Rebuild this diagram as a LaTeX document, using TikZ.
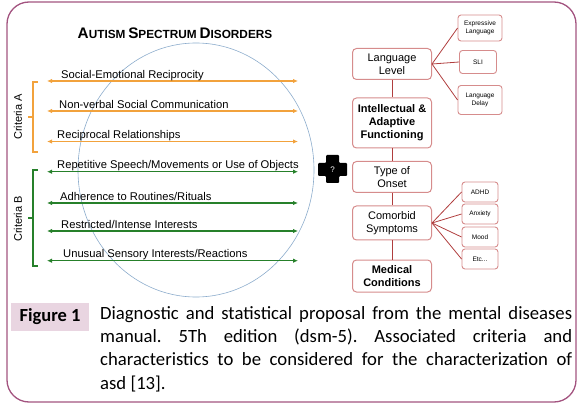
\documentclass[tikz,border=0pt]{standalone}
\usepackage{fontspec}
\setmainfont{Liberation Sans}
\newfontfamily\capfont{Carlito}
\usetikzlibrary{arrows.meta}
\definecolor{framec}{RGB}{163,84,128}
\definecolor{crita}{RGB}{242,162,60}
\definecolor{critb}{RGB}{38,128,42}
\definecolor{circc}{RGB}{140,172,204}
\definecolor{boxc}{RGB}{214,140,140}
\definecolor{linkc}{RGB}{176,62,62}
\definecolor{figc}{RGB}{233,213,225}
\newcommand{\fakesc}[2]{{\fontsize{15.3}{17}\selectfont #1}{\fontsize{11.8}{14}\selectfont #2}}
\hyphenpenalty=10000
\frenchspacing

\begin{document}
\begin{tikzpicture}[x=1pt,y=-1pt,
  bigbox/.style={draw=boxc,line width=1pt,rounded corners=4pt,fill=white,minimum width=79pt,align=center,inner sep=1pt,font=\fontsize{11}{13}\selectfont},
  smallbox/.style={draw=boxc,line width=0.9pt,rounded corners=3pt,fill=white,align=center,inner sep=1pt,font=\fontsize{6.5}{8}\selectfont},
  link/.style={linkc,line width=0.8pt},
  twoway/.style={line width=1.2pt,{Latex[length=5pt,width=4.5pt]}-{Latex[length=5pt,width=4.5pt]}},
  lbl/.style={anchor=base west,inner sep=0pt,font=\fontsize{11.2}{13}\selectfont}]
\useasboundingbox (0,0) rectangle (581,414);
\draw[framec,line width=1.3pt,rounded corners=22pt] (7,2) rectangle (576,402);

% left part: the two criteria
\node[font=\bfseries] (title) at (175,33) {\fakesc{A}{UTISM} \fakesc{S}{PECTRUM} \fakesc{D}{ISORDERS}};
\draw[circc,line width=0.6pt] (196,170) ellipse [x radius=118,y radius=127];

\coordinate (a1-l) at (47,81);    \coordinate (a1-r) at (298,81);
\coordinate (a2-l) at (47,111);   \coordinate (a2-r) at (298,111);
\coordinate (a3-l) at (47,141.5); \coordinate (a3-r) at (298,141.5);
\coordinate (b1-l) at (47,171.7); \coordinate (b1-r) at (298,171.7);
\coordinate (b2-l) at (47,203);   \coordinate (b2-r) at (298,203);
\coordinate (b3-l) at (47,231);   \coordinate (b3-r) at (298,231);
\coordinate (b4-l) at (47,260.7); \coordinate (b4-r) at (298,260.7);
\foreach \n in {a1,a2,a3} \draw[crita,twoway] (\n-l) -- (\n-r);
\foreach \n in {b1,b2,b3,b4} \draw[critb,twoway] (\n-l) -- (\n-r);

\node[lbl] (a1-t) at (61,78.5) {Social-Emotional Reciprocity};
\node[lbl] (a2-t) at (59,108.5) {Non-verbal Social Communication};
\node[lbl] (a3-t) at (57,139) {Reciprocal Relationships};
\node[lbl] (b1-t) at (57,169) {Repetitive Speech/Movements or Use of Objects};
\node[lbl] (b2-t) at (60,200.5) {Adherence to Routines/Rituals};
\node[lbl] (b3-t) at (61,228.5) {Restricted/Intense Interests};
\node[lbl] (b4-t) at (63,258) {Unusual Sensory Interests/Reactions};

\draw[crita,line width=1.2pt] (38,82) -- (33,82) -- (33,152) -- (38,152) (33,117) -- (28,117);
\draw[critb,line width=1.2pt] (38,170) -- (33,170) -- (33,266) -- (38,266) (33,218) -- (28,218);
\node[rotate=90,font=\fontsize{11}{13}\selectfont] (crit-a) at (18,117) {Criteria A};
\node[rotate=90,font=\fontsize{11}{13}\selectfont] (crit-b) at (18,219) {Criteria B};

% the plus sign
\fill[black,rounded corners=1pt] (326,155) -- (339,155) -- (339,163) -- (347,163) -- (347,176) -- (339,176)
  -- (339,183) -- (326,183) -- (326,176) -- (318,176) -- (318,163) -- (326,163) -- cycle;
\node[white,font=\fontsize{8}{9}\selectfont] (qmark) at (332.5,169.5) {?};

% right part: characteristics
\node[bigbox,minimum height=31pt] (lang) at (392,64) {Language\\Level};
\node[bigbox,minimum height=50pt] (intel) at (392,123) {\bfseries Intellectual \&\\\bfseries Adaptive\\\bfseries Functioning};
\node[bigbox,minimum height=31pt] (onset) at (392,177) {Type of\\Onset};
\node[bigbox,minimum height=34pt] (comorb) at (392,223) {Comorbid\\Symptoms};
\node[bigbox,minimum height=32pt] (medic) at (392,276) {\bfseries Medical\\\bfseries Conditions};

\node[smallbox,minimum width=44pt,minimum height=26pt] (expr) at (480,28) {Expressive\\Language};
\node[smallbox,minimum width=37pt,minimum height=23pt] (sli) at (478,62) {SLI};
\node[smallbox,minimum width=44pt,minimum height=29pt] (ldelay) at (480,100) {Language\\Delay};
\node[smallbox,minimum width=36pt,minimum height=20pt] (adhd) at (480,192) {ADHD};
\node[smallbox,minimum width=36pt,minimum height=20pt] (anx) at (480,214) {Anxiety};
\node[smallbox,minimum width=36pt,minimum height=20pt] (mood) at (480,237) {Mood};
\node[smallbox,minimum width=36pt,minimum height=20pt] (etc) at (480,259) {Etc...};

\draw[link] (lang) -- (intel);
\draw[link] (intel) -- (onset);
\draw[link] (onset) -- (comorb);
\draw[link] (comorb) -- (medic);
\foreach \s in {expr,sli,ldelay} \draw[link] (lang.east) -- (\s.west);
\foreach \s in {adhd,anx,mood,etc} \draw[link] (comorb.east) -- (\s.west);

% caption
\node[fill=figc,minimum width=78pt,minimum height=28pt,inner sep=0pt,font=\capfont\bfseries\fontsize{18.5}{21}\selectfont] (figlbl) at (50,317) {Figure 1};
\node[anchor=north west,inner sep=0pt,text width=472pt,align=justify,font=\capfont\fontsize{18.7}{23.3}\selectfont] (caption) at (100,306)
  {Diagnostic and statistical proposal from the mental diseases manual. 5Th edition (dsm-5). Associated criteria and \mbox{characteristics} to be considered for the characterization of\linebreak asd [13].};
\end{tikzpicture}
\end{document}
